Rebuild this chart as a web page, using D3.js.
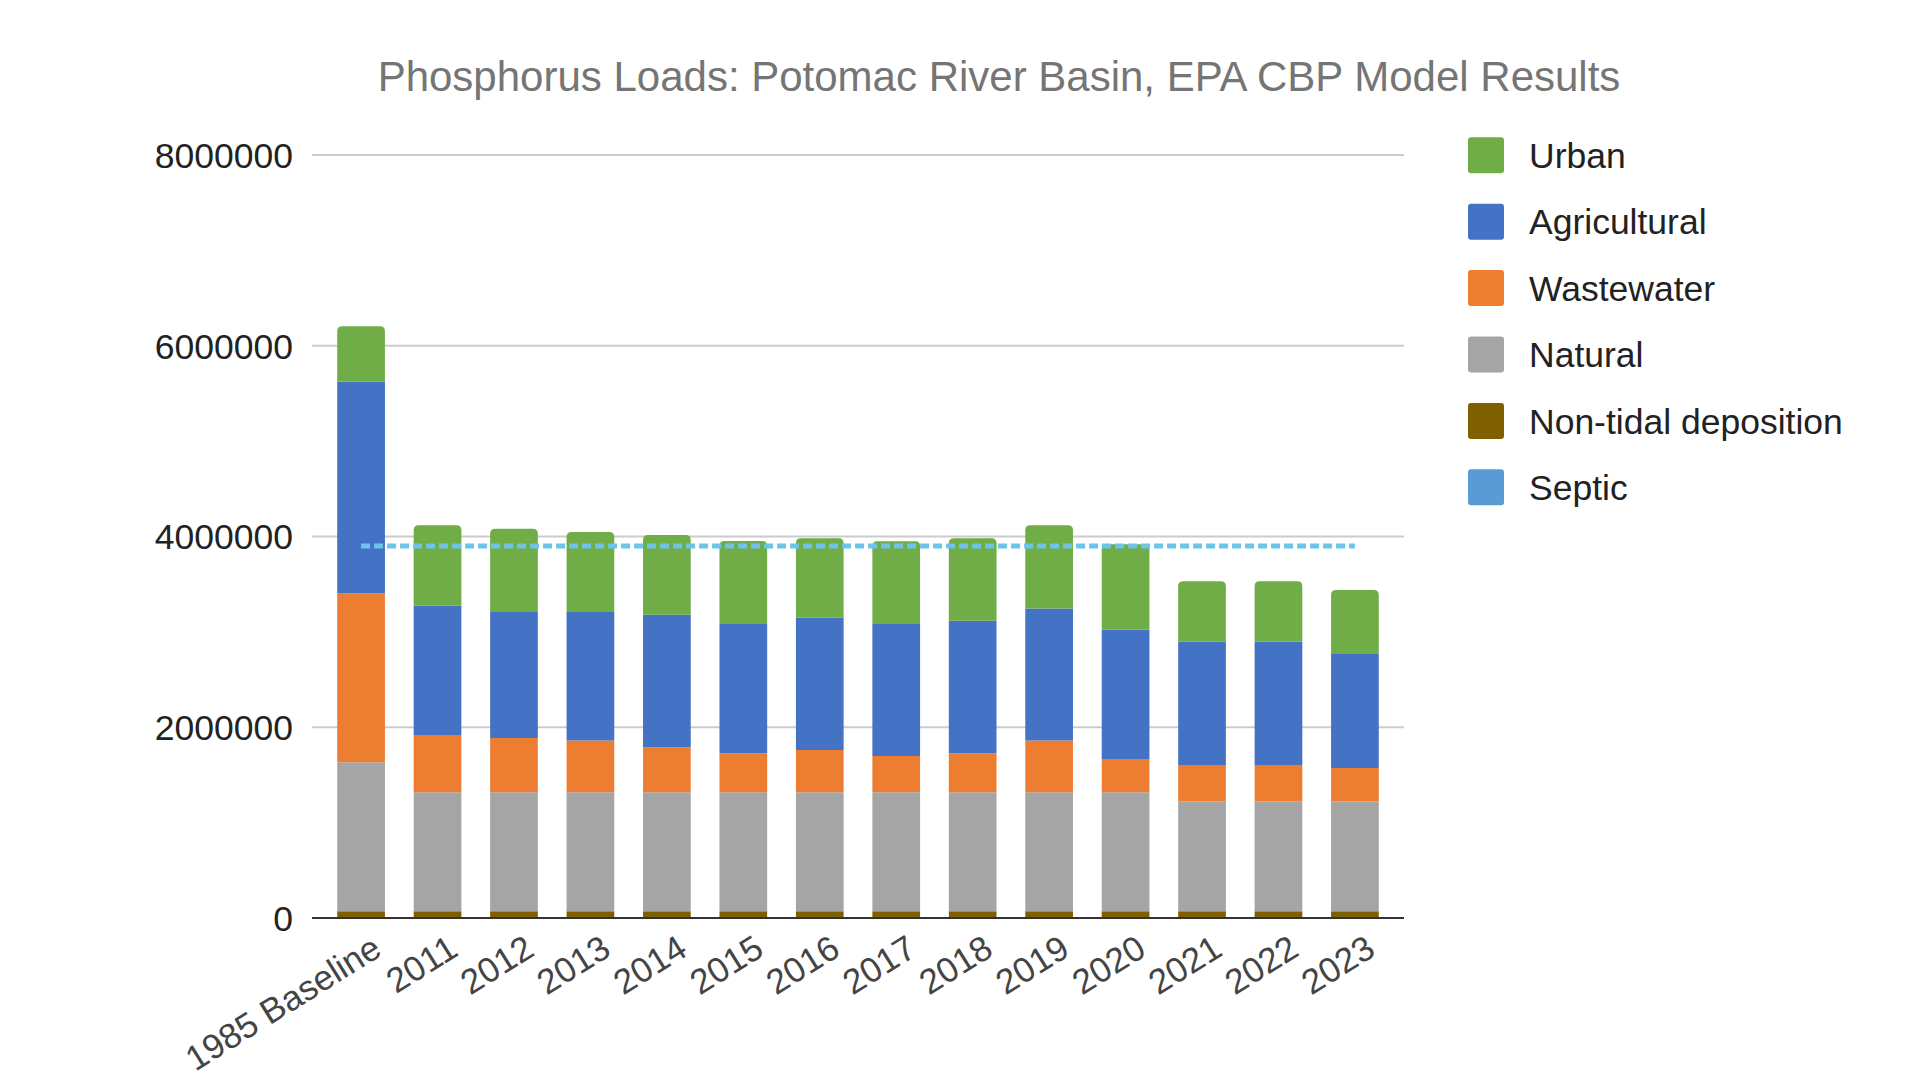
<!DOCTYPE html>
<html>
<head>
<meta charset="utf-8">
<script src="https://cdn.jsdelivr.net/npm/d3@7"></script>
<style>
body { margin: 0; background: #fff; }
svg { display: block; font-family: Arial, "Liberation Sans", sans-serif; }
</style>
</head>
<body>
<div id="chart"></div>
<script>
// values (pounds)
var years = ["1985 Baseline", "2011", "2012", "2013", "2014", "2015", "2016", "2017", "2018", "2019", "2020", "2021", "2022", "2023"];
var deposition   = [70000, 70000, 70000, 70000, 70000, 70000, 70000, 70000, 70000, 70000, 70000, 70000, 70000, 70000];
var natural      = [1563000, 1249000, 1249000, 1249000, 1249000, 1249000, 1249000, 1249000, 1249000, 1249000, 1249000, 1151000, 1151000, 1151000];
var wastewater   = [1773000, 600000, 569000, 541000, 471000, 409000, 443000, 380000, 409000, 541000, 349000, 384000, 384000, 353000];
var agricultural = [2220000, 1354000, 1327000, 1355000, 1389000, 1354000, 1390000, 1383000, 1388000, 1386000, 1354000, 1291000, 1291000, 1194000];
var urban        = [579000, 845000, 865000, 833000, 838000, 872000, 830000, 869000, 866000, 872000, 897000, 636000, 636000, 670000];
var targetLine   = [3900000, 3900000, 3900000, 3900000, 3900000, 3900000, 3900000, 3900000, 3900000, 3900000, 3900000, 3900000, 3900000, 3900000];
var yTicks = [0, 2000000, 4000000, 6000000, 8000000];

var legendNames = ["Urban", "Agricultural", "Wastewater", "Natural", "Non-tidal deposition", "Septic"];
var legendColors = ["#70ad47", "#4472c4", "#ed7d31", "#a5a5a5", "#7f6000", "#5b9bd5"];

var keys = ["deposition", "natural", "wastewater", "agricultural", "urban"];
var colors = {deposition: "#7f6000", natural: "#a5a5a5", wastewater: "#ed7d31", agricultural: "#4472c4", urban: "#70ad47"};

var rows = years.map(function(y, i) {
    return {year: y, deposition: deposition[i], natural: natural[i], wastewater: wastewater[i], agricultural: agricultural[i], urban: urban[i]};
});

var width = 1920, height = 1080;
var plotLeft = 312, plotRight = 1404, plotTop = 155, plotBottom = 918;

var svg = d3.select("#chart").append("svg")
    .attr("width", width)
    .attr("height", height);

var x = d3.scaleBand()
    .domain(years)
    .range([plotLeft, plotRight])
    .paddingInner(0.376)
    .paddingOuter(0.33);

var y = d3.scaleLinear()
    .domain([0, 8000000])
    .range([plotBottom, plotTop]);

// title
svg.append("text")
    .attr("x", 999)
    .attr("y", 91)
    .attr("text-anchor", "middle")
    .attr("font-size", 42)
    .attr("fill", "#757575")
    .text("Phosphorus Loads: Potomac River Basin, EPA CBP Model Results");

// grid
svg.append("g")
    .selectAll("line")
    .data(yTicks.filter(function(d) { return d > 0; }))
    .enter().append("line")
    .attr("x1", plotLeft)
    .attr("x2", plotRight)
    .attr("y1", function(d) { return y(d); })
    .attr("y2", function(d) { return y(d); })
    .attr("stroke", "#cccccc")
    .attr("stroke-width", 2);

svg.append("g")
    .selectAll("text")
    .data(yTicks)
    .enter().append("text")
    .attr("x", 293)
    .attr("y", function(d) { return y(d); })
    .attr("dy", "0.36em")
    .attr("text-anchor", "end")
    .attr("font-size", 35.5)
    .attr("fill", "#222")
    .text(function(d) { return d3.format("d")(d); });

var stack = d3.stack().keys(keys)(rows);

function roundTop(x0, y0, w, h, r) {
    r = Math.min(r, h);
    return "M" + x0 + "," + (y0 + h) +
        "V" + (y0 + r) +
        "Q" + x0 + "," + y0 + " " + (x0 + r) + "," + y0 +
        "H" + (x0 + w - r) +
        "Q" + (x0 + w) + "," + y0 + " " + (x0 + w) + "," + (y0 + r) +
        "V" + (y0 + h) + "Z";
}

var layers = svg.append("g")
    .selectAll("g")
    .data(stack)
    .enter().append("g")
    .attr("fill", function(d) { return colors[d.key]; });

layers.selectAll("path")
    .data(function(d) { return d.map(function(p) { return {p: p, key: d.key}; }); })
    .enter().append("path")
    .attr("d", function(d) {
        var x0 = x(d.p.data.year), y0 = y(d.p[1]), h = y(d.p[0]) - y(d.p[1]);
        var r = d.key == "urban" ? 5 : 0;
        return roundTop(x0, y0, x.bandwidth(), h, r);
    });

// dashed line
var line = d3.line()
    .x(function(d, i) { return x(years[i]) + x.bandwidth() / 2; })
    .y(function(d) { return y(d); });

svg.append("path")
    .datum(targetLine)
    .attr("d", line)
    .attr("fill", "none")
    .attr("stroke", "#6cc4ea")
    .attr("stroke-width", 5)
    .attr("stroke-dasharray", "9,4");

// baseline
svg.append("line")
    .attr("x1", plotLeft)
    .attr("x2", plotRight)
    .attr("y1", y(0))
    .attr("y2", y(0))
    .attr("stroke", "#333")
    .attr("stroke-width", 2);

// x labels
svg.append("g")
    .selectAll("text")
    .data(years)
    .enter().append("text")
    .attr("transform", function(d) {
        return "translate(" + (x(d) + x.bandwidth() / 2 + 9) + "," + 933 + ") rotate(-32)";
    })
    .attr("text-anchor", "end")
    .attr("dy", "0.72em")
    .attr("font-size", 35)
    .attr("fill", "#444")
    .text(function(d) { return d; });

// legend
var legend = svg.append("g")
    .selectAll("g")
    .data(legendNames)
    .enter().append("g")
    .attr("transform", function(d, i) { return "translate(1468," + (155.3 + i * 66.4) + ")"; });

legend.append("rect")
    .attr("x", 0)
    .attr("y", -18)
    .attr("width", 36)
    .attr("height", 36)
    .attr("rx", 3)
    .attr("fill", function(d, i) { return legendColors[i]; });

legend.append("text")
    .attr("x", 61)
    .attr("dy", "0.36em")
    .attr("font-size", 35.5)
    .attr("fill", "#222")
    .text(function(d) { return d; });
</script>
</body>
</html>
